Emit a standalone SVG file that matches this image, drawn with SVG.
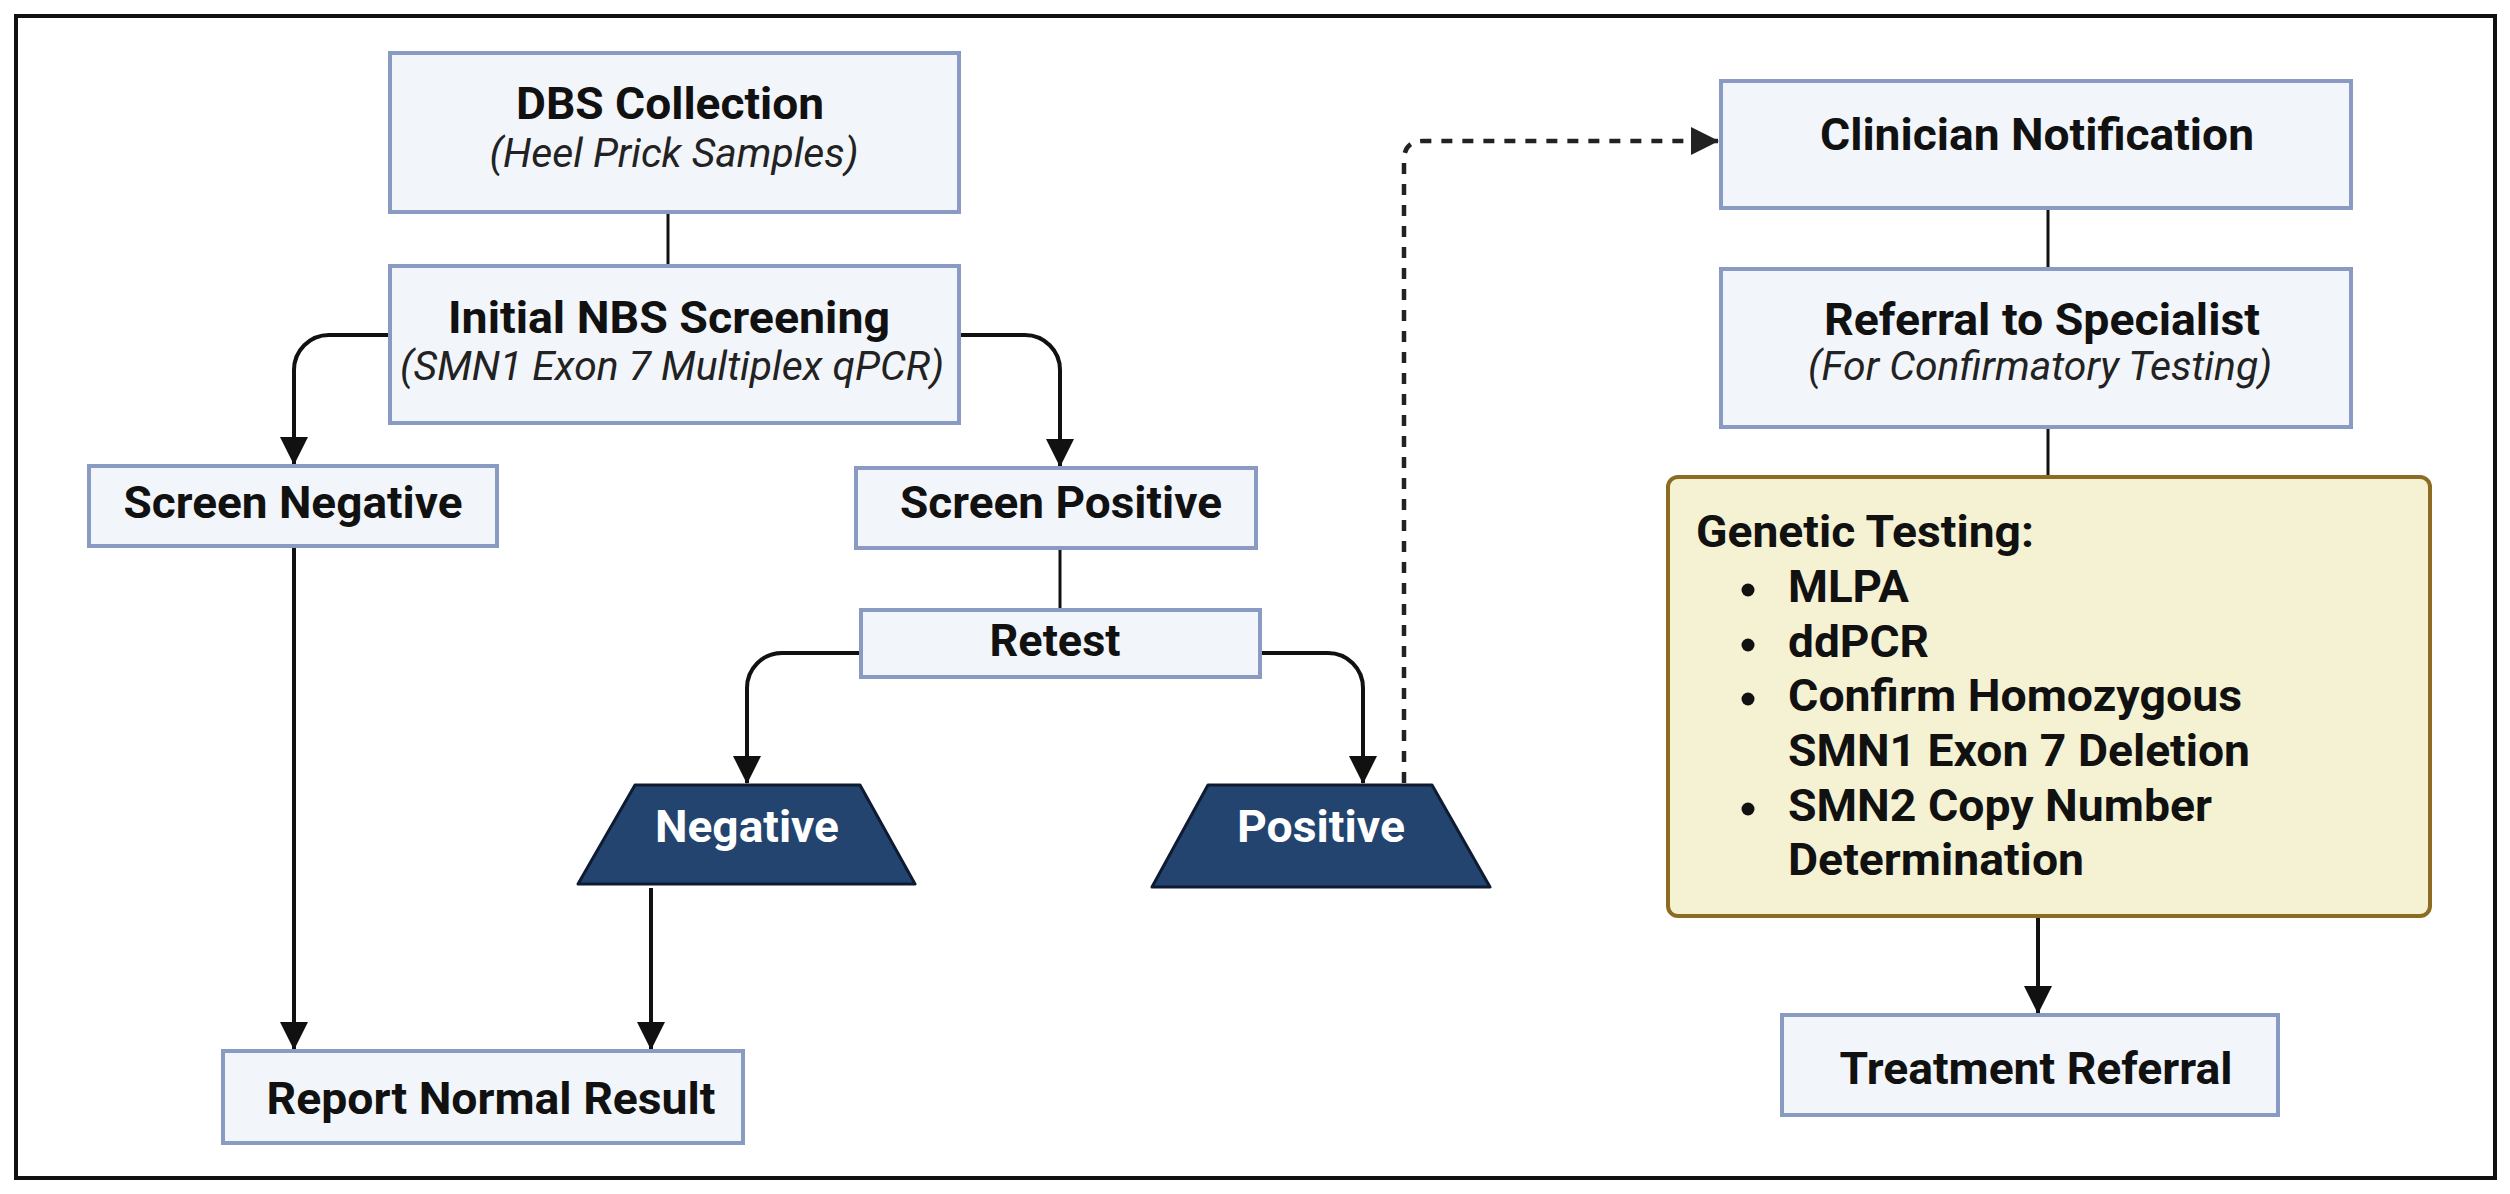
<svg xmlns="http://www.w3.org/2000/svg" width="2510" height="1194" viewBox="0 0 2510 1194">
<defs>
<style>
.box{fill:#F2F5FA;stroke:#8A9BC3;stroke-width:4}
.trap{fill:#23446F;stroke:#0E1B33;stroke-width:3;stroke-linejoin:round}
.gen{fill:#F5F2D3;stroke:#8C6C22;stroke-width:4}
.t{font-family:Roboto,"Liberation Sans",sans-serif;font-weight:bold;font-size:44px;fill:#111}
.i{font-family:Roboto,"Liberation Sans",sans-serif;font-style:italic;font-size:40px;fill:#222}
.w{font-family:Roboto,"Liberation Sans",sans-serif;font-weight:bold;font-size:44px;fill:#FFFFFF}
.c{text-anchor:middle}
.ln{fill:none;stroke:#111;stroke-width:4}
.thin{fill:none;stroke:#111;stroke-width:3}
.dash{fill:none;stroke:#222;stroke-width:4.5;stroke-dasharray:11 10}
</style>
<marker id="ah" markerUnits="userSpaceOnUse" markerWidth="28" markerHeight="28" refX="27" refY="14" orient="auto" viewBox="0 0 28 28">
<path d="M0,0 L28,14 L0,28 Z" fill="#111"/>
</marker>
<marker id="ahd" markerUnits="userSpaceOnUse" markerWidth="28" markerHeight="28" refX="27" refY="14" orient="auto" viewBox="0 0 28 28">
<path d="M0,0 L28,14 L0,28 Z" fill="#222"/>
</marker>
</defs>
<rect x="0" y="0" width="2510" height="1194" fill="#FFFFFF"/>
<rect x="16" y="16" width="2479" height="1162" fill="#FFFFFF" stroke="#111" stroke-width="4"/>

<g id="connectors">
<path class="thin" d="M668,212 V266"/>
<path class="ln" d="M388,335 H329 A35,35 0 0 0 294,370 V464" marker-end="url(#ah)"/>
<path class="ln" d="M961,335 H1025 A35,35 0 0 1 1060,370 V466" marker-end="url(#ah)"/>
<path class="ln" d="M294,546 V1049" marker-end="url(#ah)"/>
<path class="thin" d="M1060,548 V610"/>
<path class="ln" d="M859,653 H782 A35,35 0 0 0 747,688 V783" marker-end="url(#ah)"/>
<path class="ln" d="M1262,653 H1328 A35,35 0 0 1 1363,688 V783" marker-end="url(#ah)"/>
<path class="ln" d="M651,888 V1049" marker-end="url(#ah)"/>
<path class="dash" d="M1404,783 V160 Q1404,141 1423,141 H1718" marker-end="url(#ahd)"/>
<path class="thin" d="M2048,208 V269"/>
<path class="thin" d="M2048,427 V477"/>
<path class="ln" d="M2038,918 V1013" marker-end="url(#ah)"/>
</g>

<g id="dbs-collection">
<rect class="box" x="390" y="53" width="569" height="159"/>
<text class="t c" x="670" y="119" textLength="308" lengthAdjust="spacingAndGlyphs">DBS Collection</text>
<text class="i c" x="674" y="167" textLength="369" lengthAdjust="spacingAndGlyphs">(Heel Prick Samples)</text>
</g>

<g id="initial-nbs-screening">
<rect class="box" x="390" y="266" width="569" height="157"/>
<text class="t c" x="669" y="333" textLength="442" lengthAdjust="spacingAndGlyphs">Initial NBS Screening</text>
<text class="i c" x="672" y="380" textLength="544" lengthAdjust="spacingAndGlyphs">(SMN1 Exon 7 Multiplex qPCR)</text>
</g>

<g id="screen-negative">
<rect class="box" x="89" y="466" width="408" height="80"/>
<text class="t c" x="293" y="518" textLength="339" lengthAdjust="spacingAndGlyphs">Screen Negative</text>
</g>

<g id="screen-positive">
<rect class="box" x="856" y="468" width="400" height="80"/>
<text class="t c" x="1061" y="518" textLength="322" lengthAdjust="spacingAndGlyphs">Screen Positive</text>
</g>

<g id="retest">
<rect class="box" x="861" y="610" width="399" height="67"/>
<text class="t c" x="1055" y="656" textLength="131" lengthAdjust="spacingAndGlyphs">Retest</text>
</g>

<g id="negative">
<polygon class="trap" points="635,785 860,785 915,884 578,884"/>
<text class="w c" x="747" y="842" textLength="184" lengthAdjust="spacingAndGlyphs">Negative</text>
</g>

<g id="positive">
<polygon class="trap" points="1208,785 1432,785 1490,887 1152,887"/>
<text class="w c" x="1321" y="842" textLength="168" lengthAdjust="spacingAndGlyphs">Positive</text>
</g>

<g id="report-normal-result">
<rect class="box" x="223" y="1051" width="520" height="92"/>
<text class="t c" x="491" y="1114" textLength="449" lengthAdjust="spacingAndGlyphs">Report Normal Result</text>
</g>

<g id="clinician-notification">
<rect class="box" x="1721" y="81" width="630" height="127"/>
<text class="t c" x="2037" y="150" textLength="434" lengthAdjust="spacingAndGlyphs">Clinician Notification</text>
</g>

<g id="referral-to-specialist">
<rect class="box" x="1721" y="269" width="630" height="158"/>
<text class="t c" x="2042" y="335" textLength="436" lengthAdjust="spacingAndGlyphs">Referral to Specialist</text>
<text class="i c" x="2040" y="380" textLength="464" lengthAdjust="spacingAndGlyphs">(For Confirmatory Testing)</text>
</g>

<g id="genetic-testing">
<rect class="gen" x="1668" y="477" width="762" height="439" rx="10" ry="10"/>
<text class="t" x="1696" y="547" textLength="338" lengthAdjust="spacingAndGlyphs">Genetic Testing:</text>
<circle cx="1748" cy="590" r="6.5" fill="#111"/>
<text class="t" x="1788" y="602" textLength="121" lengthAdjust="spacingAndGlyphs">MLPA</text>
<circle cx="1748" cy="645" r="6.5" fill="#111"/>
<text class="t" x="1788" y="657" textLength="141" lengthAdjust="spacingAndGlyphs">ddPCR</text>
<circle cx="1748" cy="699" r="6.5" fill="#111"/>
<text class="t" x="1788" y="711" textLength="454" lengthAdjust="spacingAndGlyphs">Confirm Homozygous</text>
<text class="t" x="1788" y="766" textLength="462" lengthAdjust="spacingAndGlyphs">SMN1 Exon 7 Deletion</text>
<circle cx="1748" cy="809" r="6.5" fill="#111"/>
<text class="t" x="1788" y="821" textLength="424" lengthAdjust="spacingAndGlyphs">SMN2 Copy Number</text>
<text class="t" x="1788" y="875" textLength="296" lengthAdjust="spacingAndGlyphs">Determination</text>
</g>

<g id="treatment-referral">
<rect class="box" x="1782" y="1015" width="496" height="100"/>
<text class="t c" x="2036" y="1084" textLength="393" lengthAdjust="spacingAndGlyphs">Treatment Referral</text>
</g>
</svg>
